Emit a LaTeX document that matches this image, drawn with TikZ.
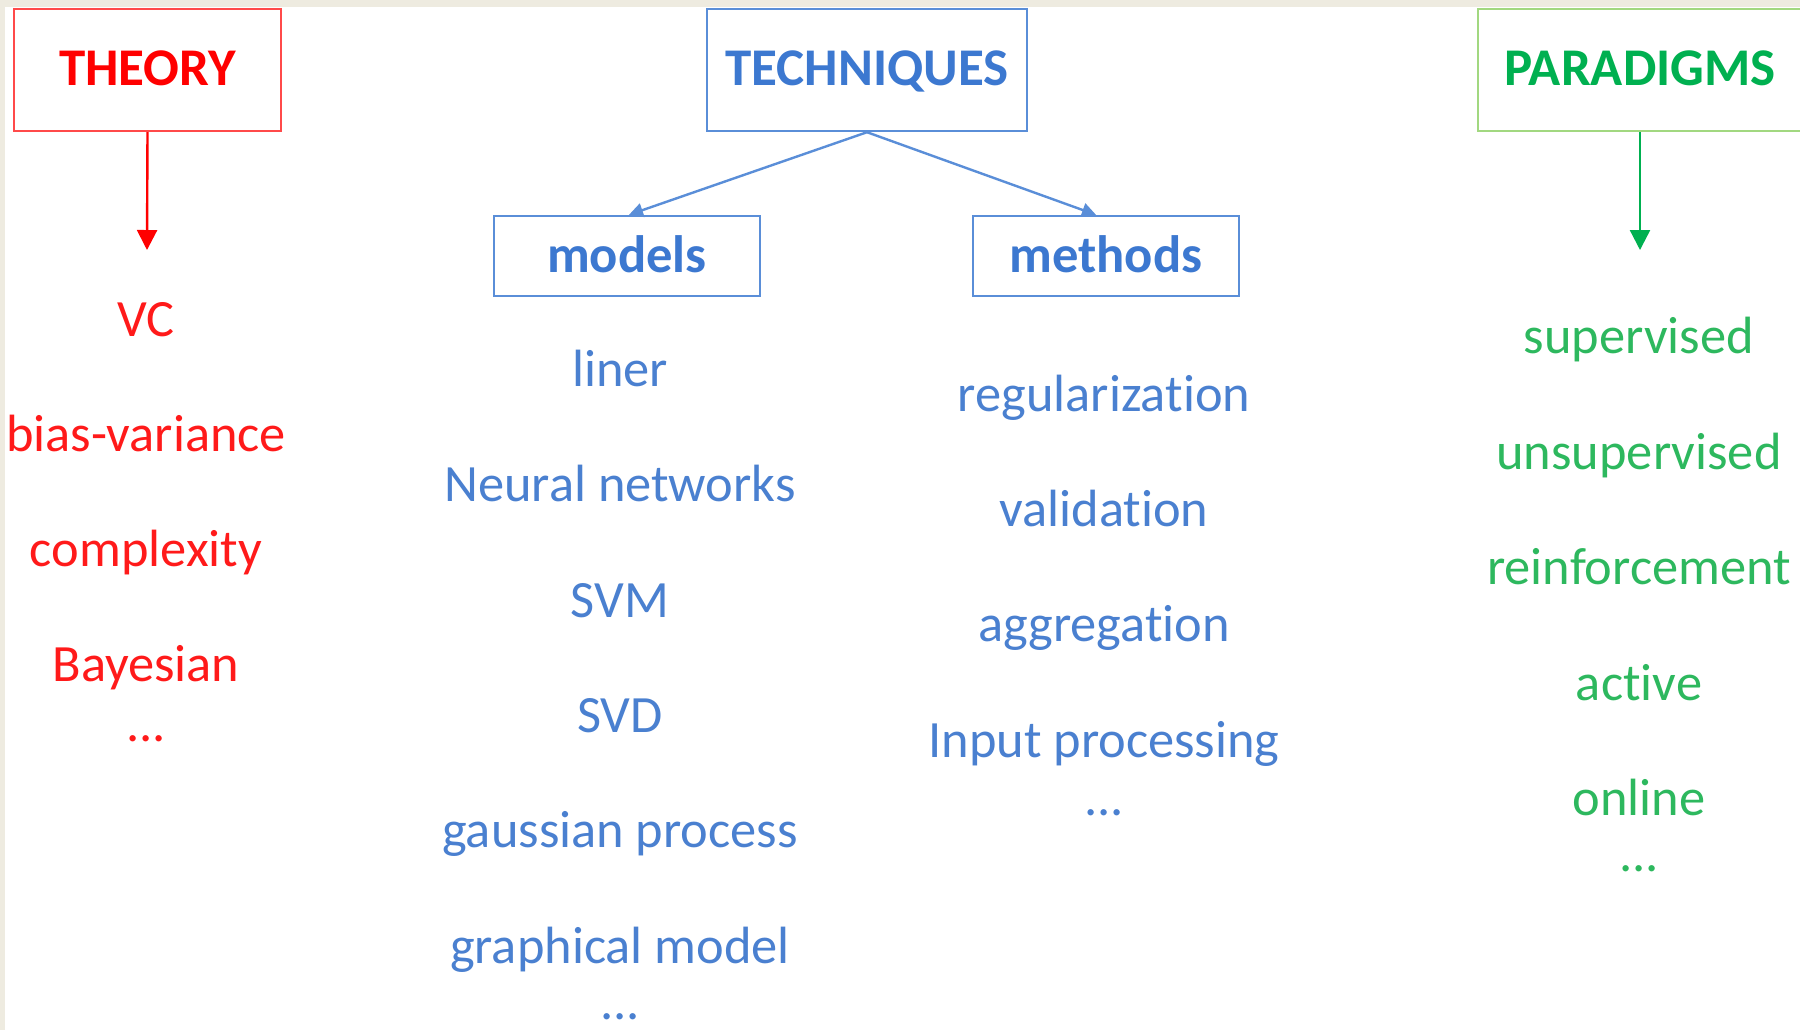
\documentclass[tikz,border=0pt]{standalone}
\usepackage{fontspec}
\setmainfont[Ligatures={NoCommon,NoRare,NoContextual}]{Carlito}
\usetikzlibrary{arrows.meta}
\newcommand{\nolig}{\kern0pt }
\definecolor{bgbeige}{HTML}{EEEBE0}
\definecolor{thred}{HTML}{FF0000}
\definecolor{thredline}{HTML}{FF4A4A}
\definecolor{thredtext}{HTML}{FF1A1A}
\definecolor{teblue}{HTML}{3C78D0}
\definecolor{teblueline}{HTML}{5A8ED8}
\definecolor{tebluetext}{HTML}{4A80D0}
\definecolor{pagreen}{HTML}{00B050}
\definecolor{pagreenline}{HTML}{A2D880}
\definecolor{pagreentext}{HTML}{2DB85E}
\tikzset{
  titlebox/.style={draw, line width=1.2pt, inner sep=0pt, minimum width=133.5pt, minimum height=61pt,
    font=\fontsize{26.5}{30}\selectfont\bfseries, text height=17pt, text depth=2pt},
  subbox/.style={draw=teblueline, line width=1.2pt, inner sep=0pt, minimum width=133pt, minimum height=40pt,
    font=\fontsize{26.3}{30}\selectfont\bfseries, text=teblue, text height=20pt, text depth=4pt},
  item/.style={anchor=base, inner sep=0pt, font=\fontsize{26.2}{30}\selectfont},
  reditem/.style={item, text=thredtext},
  blueitem/.style={item, text=tebluetext},
  greenitem/.style={item, text=pagreentext},
  bigarrow/.style={line width=1.2pt, -{Triangle[width=10pt,length=10pt]}},
  smallarrow/.style={line width=1.2pt, draw=teblueline, -{Triangle[width=7pt,length=7pt]}}
}
\begin{document}
\begin{tikzpicture}[x=0.5pt,y=-0.5pt]
\useasboundingbox (0,0) rectangle (1800,1030);
\fill[bgbeige] (0,0) rectangle (1800,1030);
\fill[white] (5,7) rectangle (1800,1030);
\begin{scope}
\clip (0,0) rectangle (1800,1030);
% title boxes
\node[titlebox, draw=thredline, text=thred] (theory) at (147.5,70) {THEORY};
\node[titlebox, draw=teblueline, text=teblue, minimum width=160pt] (tech) at (867,70) {TECHNIQUES};
\node[titlebox, draw=pagreenline, text=pagreen, minimum width=162pt] (para) at (1640,70) {PARADIGMS};
\end{scope}
% sub boxes
\node[subbox] (models) at (627,256) {models};
\node[subbox] (methods) at (1106,256) {methods};
% arrows
\coordinate (theoryend) at (147,250);
\coordinate (paraend) at (1640,250);
\draw[bigarrow, draw=thred, fill=thred] (theory.south) -- (theoryend);
\draw[bigarrow, draw=pagreen, fill=pagreen] (para.south) -- (paraend);
\draw[smallarrow, fill=teblueline] (tech.south) -- ([xshift=1pt]models.north);
\draw[smallarrow, fill=teblueline] (tech.south) -- ([xshift=-5pt]methods.north);
% theory list
\node[reditem] (t1) at (146,336) {VC};
\node[reditem] (t2) at (146,451) {bias-variance};
\node[reditem] (t3) at (146,566) {complexity};
\node[reditem] (t4) at (146,681) {Bayesian};
\node[reditem] (t5) at (146,741) {...};
% models list
\node[blueitem] (m1) at (620,386) {liner};
\node[blueitem] (m2) at (620,501) {Neural networks};
\node[blueitem] (m3) at (620,617) {SVM};
\node[blueitem] (m4) at (620,732) {SVD};
\node[blueitem] (m5) at (620,847) {gaussian process};
\node[blueitem] (m6) at (620,963) {graphical model};
\node[blueitem] (m7) at (620,1019) {...};
% methods list
\node[blueitem] (h1) at (1104,411) {regularizat\nolig ion};
\node[blueitem] (h2) at (1104,526) {validat\nolig ion};
\node[blueitem] (h3) at (1104,641) {aggregat\nolig ion};
\node[blueitem] (h4) at (1104,757) {Input processing};
\node[blueitem] (h5) at (1104,815) {...};
% paradigms list
\node[greenitem] (p1) at (1639,353) {supervised};
\node[greenitem] (p2) at (1639,469) {unsupervised};
\node[greenitem] (p3) at (1639,584) {reinforcement};
\node[greenitem] (p4) at (1639,700) {active};
\node[greenitem] (p5) at (1639,815) {online};
\node[greenitem] (p6) at (1639,871) {...};
\end{tikzpicture}
\end{document}
